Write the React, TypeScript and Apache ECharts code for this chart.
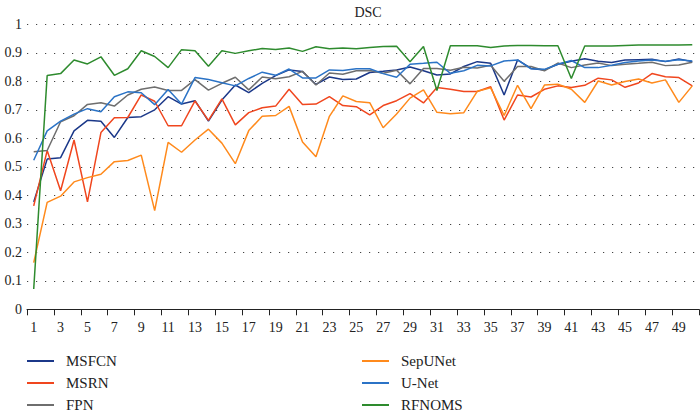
import React, { useEffect, useRef } from "react";
import * as echarts from "echarts";

const categories: string[] = Array.from({ length: 50 }, (_, i) => String(i + 1));

const msfcn = [0.377, 0.527, 0.532, 0.626, 0.663, 0.660, 0.603, 0.673, 0.676, 0.700, 0.746, 0.720, 0.732, 0.660, 0.734, 0.787, 0.760, 0.793, 0.820, 0.840, 0.834, 0.789, 0.815, 0.806, 0.808, 0.831, 0.835, 0.840, 0.850, 0.837, 0.822, 0.826, 0.852, 0.869, 0.863, 0.752, 0.875, 0.845, 0.840, 0.860, 0.870, 0.879, 0.870, 0.866, 0.875, 0.876, 0.877, 0.869, 0.878, 0.869];
const msrn = [0.363, 0.557, 0.416, 0.594, 0.377, 0.620, 0.672, 0.673, 0.752, 0.730, 0.644, 0.644, 0.731, 0.663, 0.738, 0.647, 0.690, 0.707, 0.713, 0.772, 0.719, 0.720, 0.746, 0.715, 0.711, 0.682, 0.715, 0.732, 0.757, 0.724, 0.778, 0.772, 0.764, 0.764, 0.781, 0.664, 0.752, 0.745, 0.772, 0.784, 0.778, 0.786, 0.811, 0.805, 0.779, 0.794, 0.827, 0.816, 0.813, 0.784];
const fpn = [0.553, 0.557, 0.658, 0.679, 0.719, 0.725, 0.713, 0.752, 0.772, 0.780, 0.768, 0.768, 0.806, 0.769, 0.793, 0.814, 0.770, 0.815, 0.809, 0.816, 0.835, 0.787, 0.829, 0.825, 0.837, 0.838, 0.828, 0.839, 0.791, 0.845, 0.845, 0.839, 0.849, 0.847, 0.856, 0.800, 0.852, 0.852, 0.837, 0.864, 0.848, 0.857, 0.864, 0.855, 0.860, 0.863, 0.867, 0.855, 0.857, 0.867];
const sepunet = [0.164, 0.375, 0.397, 0.447, 0.462, 0.474, 0.518, 0.522, 0.541, 0.346, 0.586, 0.551, 0.594, 0.632, 0.583, 0.511, 0.627, 0.677, 0.680, 0.712, 0.587, 0.535, 0.677, 0.749, 0.729, 0.725, 0.637, 0.685, 0.741, 0.770, 0.691, 0.686, 0.690, 0.765, 0.777, 0.680, 0.786, 0.704, 0.787, 0.790, 0.772, 0.726, 0.801, 0.787, 0.799, 0.808, 0.794, 0.805, 0.726, 0.784];
const unet = [0.523, 0.626, 0.660, 0.685, 0.704, 0.693, 0.746, 0.763, 0.760, 0.718, 0.771, 0.720, 0.813, 0.806, 0.795, 0.784, 0.810, 0.832, 0.821, 0.843, 0.812, 0.812, 0.840, 0.838, 0.844, 0.844, 0.827, 0.814, 0.860, 0.863, 0.867, 0.828, 0.837, 0.856, 0.854, 0.871, 0.875, 0.844, 0.842, 0.860, 0.873, 0.848, 0.848, 0.856, 0.866, 0.871, 0.875, 0.870, 0.876, 0.871];
const rfnoms = [0.071, 0.820, 0.827, 0.875, 0.861, 0.886, 0.821, 0.844, 0.907, 0.887, 0.848, 0.911, 0.907, 0.853, 0.907, 0.898, 0.907, 0.915, 0.912, 0.917, 0.905, 0.921, 0.914, 0.917, 0.914, 0.919, 0.922, 0.923, 0.869, 0.922, 0.768, 0.925, 0.925, 0.925, 0.919, 0.924, 0.926, 0.926, 0.925, 0.925, 0.810, 0.924, 0.924, 0.924, 0.926, 0.927, 0.927, 0.927, 0.927, 0.928];

const seriesNames = ["MSFCN", "MSRN", "FPN", "SepUNet", "U-Net", "RFNOMS"];
const seriesData = [msfcn, msrn, fpn, sepunet, unet, rfnoms];
const seriesColors = ["#1b3889", "#f0461e", "#6e6e6e", "#ff8a1c", "#2b73c6", "#2e8b2e"];

const FONT = "'Liberation Serif', 'DejaVu Serif', serif";

export default function App() {
  const ref = useRef<HTMLDivElement>(null);
  useEffect(() => {
    if (!ref.current) return;
    const chart = echarts.init(ref.current, undefined, { renderer: "svg" });
    const legends = seriesNames.map((name, i) => ({
      orient: "horizontal" as const,
      left: i < 3 ? 27 : 362,
      top: 353 + (i % 3) * 22,
      itemWidth: 27,
      itemHeight: 2,
      icon: "rect",
      padding: 0,
      textStyle: { fontFamily: FONT, fontSize: 15, color: "#222", lineHeight: 16, padding: [0, 0, 0, 7] },
      data: [name],
    }));
    chart.setOption({
      animation: false,
      backgroundColor: "#ffffff",
      textStyle: { fontFamily: FONT },
      title: {
        text: "DSC",
        left: 363,
        top: 0,
        textAlign: "center",
        textStyle: { fontFamily: FONT, fontSize: 14, fontWeight: "normal", color: "#222" },
      },
      legend: legends,
      grid: { left: 27, right: 1, top: 24.3, bottom: 104.7, containLabel: false },
      xAxis: {
        type: "category",
        data: categories,
        boundaryGap: true,
        axisLine: { show: true, lineStyle: { color: "#222", width: 1 } },
        axisTick: { show: true, interval: 1, length: 6, lineStyle: { color: "#222" } },
        axisLabel: { interval: 1, fontFamily: FONT, fontSize: 14, color: "#222", margin: 11 },
        splitLine: { show: false },
      },
      yAxis: {
        type: "value",
        min: 0,
        max: 1,
        interval: 0.1,
        axisLine: { show: false },
        axisTick: { show: false },
        axisLabel: { fontFamily: FONT, fontSize: 14, color: "#222", margin: 5 },
        splitLine: { show: true, lineStyle: { color: "#444", width: 1.2, type: [1.2, 7.8] } },
      },
      series: seriesNames.map((name, i) => ({
        name,
        type: "line",
        data: seriesData[i],
        symbol: "none",
        lineStyle: { color: seriesColors[i], width: 1.5 },
        itemStyle: { color: seriesColors[i] },
      })),
    });
    return () => chart.dispose();
  }, []);
  return (
    <div
      ref={ref}
      style={{ position: "fixed", left: 0, top: 0, width: 700, height: 414, background: "#fff" }}
    />
  );
}
